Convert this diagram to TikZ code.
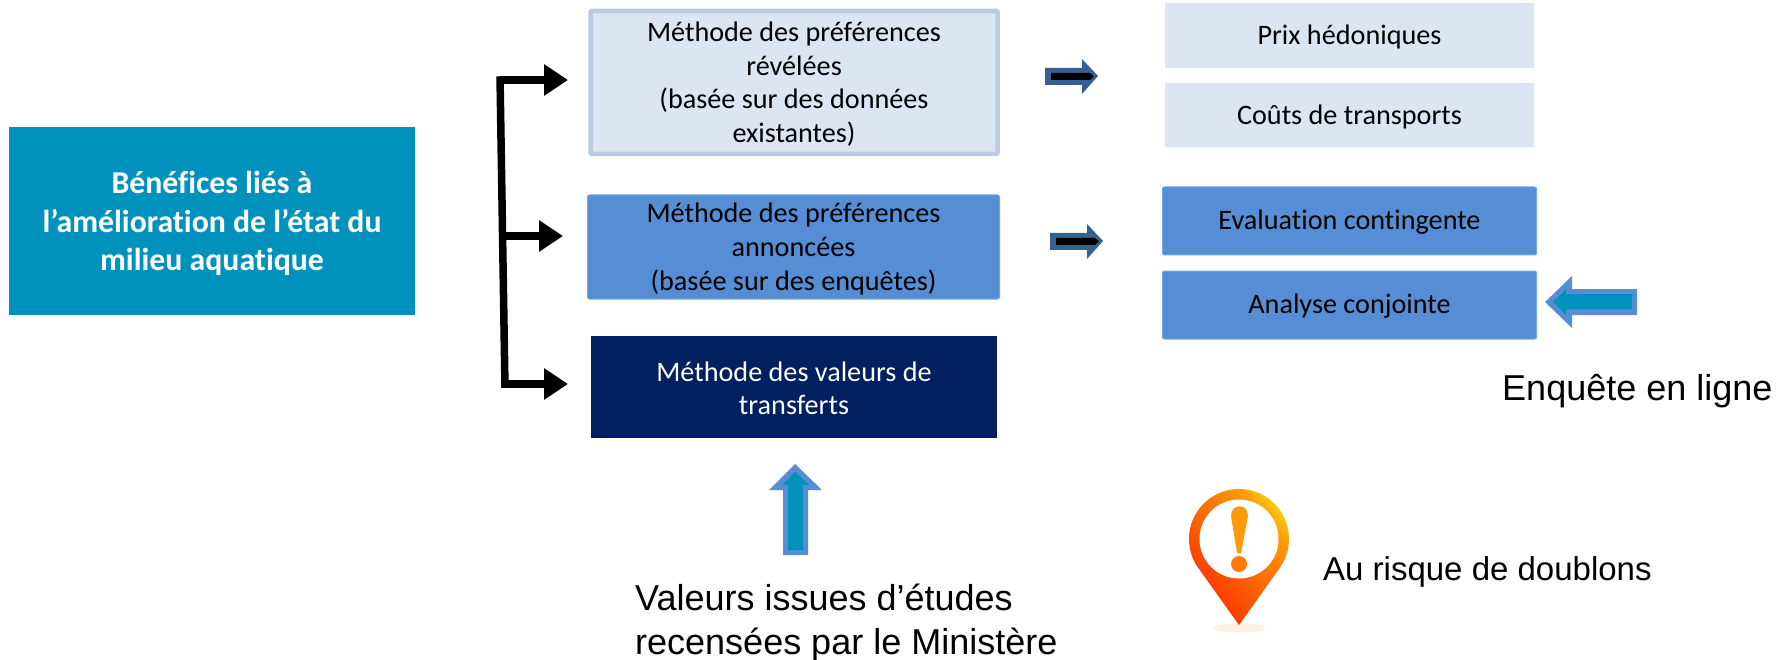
\documentclass[tikz,border=0pt]{standalone}
\usepackage{fontspec}
\setmainfont[Ligatures=NoCommon]{Carlito}
\newfontfamily\arialf{Liberation Sans}
\usetikzlibrary{arrows.meta}
\definecolor{lightfill}{HTML}{DCE6F2}
\definecolor{lightedge}{HTML}{B7CBE3}
\definecolor{midblue}{HTML}{558ED5}
\definecolor{navy}{HTML}{002060}
\definecolor{teal}{HTML}{0092BC}
\definecolor{slate}{HTML}{376092}
\definecolor{pinred}{HTML}{F93A00}
\definecolor{pinorange}{HTML}{FF7A08}
\definecolor{pinamber}{HTML}{FF9A08}
\definecolor{pinyellow}{HTML}{FFD010}
\pgfdeclareverticalshading{pinramp}{100bp}{color(0bp)=(pinred);color(30bp)=(pinred);color(55bp)=(pinorange);color(66bp)=(pinamber);color(74bp)=(pinyellow);color(100bp)=(pinyellow)}
\tikzset{
  box/.style={inner sep=0pt,align=center,font=\fontsize{28.2}{33.6}\selectfont,text=black},
  lightbox/.style={box,fill=lightfill},
  midbox/.style={box,fill=midblue,draw=midblue!80!white,line width=1pt,rounded corners=2pt},
  bigtext/.style={inner sep=0pt,align=left,font=\arialf\fontsize{36}{44}\selectfont},
  bracket/.style={line width=7.5pt,draw=black},
  branch/.style={line width=7.5pt,draw=black,-{Triangle[length=24pt,width=30pt]}},
  smallarrow/.style={fill=slate},
  bluearrow/.style={fill=midblue},
  tealarrow/.style={fill=teal},
  pinshade/.style={shading=pinramp,shading angle=-50}
}
\begin{document}
\begin{tikzpicture}[x=1pt,y=-1pt]
\useasboundingbox[fill=white] (0,0) rectangle (1787,660);
% main box
\node[box,fill=teal,minimum width=406pt,minimum height=188pt] (main) at (212,221) {};
\node[box,text=white,font=\bfseries\fontsize{31.8}{38.5}\selectfont] (mainlabel) at (212,223.5) {Bénéfices liés à\\l’amélioration de l’état du\\milieu aquatique};
% method boxes
\node[lightbox,draw=lightedge,line width=4.5pt,rounded corners=1pt,minimum width=407pt,minimum height=143pt] (m1) at (794,82.5) {};
\node[box] (m1label) at (794,84) {Méthode des préférences\\révélées\\(basée sur des données\\existantes)};
\node[midbox,minimum width=412pt,minimum height=104pt] (m2) at (793.5,247) {};
\node[box] (m2label) at (793.5,249) {Méthode des préférences\\annoncées\\(basée sur des enquêtes)};
\node[box,fill=navy,minimum width=406pt,minimum height=102pt] (m3) at (794,387) {};
\node[box,text=white] (m3label) at (794,388.5) {Méthode des valeurs de\\transferts};
% right boxes
\node[lightbox,minimum width=369pt,minimum height=65pt] (r1) at (1349.5,35.5) {};
\node[box] (r1label) at (1349.5,36.5) {Prix hédoniques};
\node[lightbox,minimum width=369pt,minimum height=64pt] (r2) at (1349.5,115) {};
\node[box] (r2label) at (1349.5,117) {Coûts de transports};
\node[midbox,minimum width=374pt,minimum height=68pt] (r3) at (1349.5,221) {};
\node[box] (r3label) at (1349.5,222.5) {Evaluation contingente};
\node[midbox,minimum width=374pt,minimum height=68pt] (r4) at (1349.5,305) {};
\node[box] (r4label) at (1349.5,306.5) {Analyse conjointe};
% bracket
\coordinate (tTop) at (500,80);
\coordinate (tMid) at (502,236);
\coordinate (tBot) at (505,384);
\coordinate (hTop) at (568,80);
\coordinate (hMid) at (563,236);
\coordinate (hBot) at (568,384);
\draw[bracket] ([yshift=3.75pt]tTop) -- ([yshift=-3.75pt]tBot);
\draw[branch] (tTop) -- (hTop);
\draw[branch] (tMid) -- (hMid);
\draw[branch] (tBot) -- (hBot);
% small slate arrows
\fill[smallarrow] (1045,68) -- (1082,68) -- (1082,59) -- (1098,76) -- (1082,94) -- (1082,85) -- (1045,85) -- cycle;
\fill[black] (1051,73) -- (1090,73) -- (1094,76.5) -- (1090,80) -- (1051,80) -- cycle;
\fill[smallarrow] (1050,233) -- (1087,233) -- (1087,224) -- (1103,241) -- (1087,259) -- (1087,250) -- (1050,250) -- cycle;
\fill[black] (1056,238) -- (1095,238) -- (1099,241.5) -- (1095,245) -- (1056,245) -- cycle;
% left arrow
\fill[bluearrow] (1545,302) -- (1572,276) -- (1572,289) -- (1637,289) -- (1637,315) -- (1572,315) -- (1572,328) -- cycle;
\fill[tealarrow] (1553,302) -- (1566,289) -- (1566,294) -- (1632,294) -- (1632,309) -- (1566,309) -- (1566,315) -- cycle;
% up arrow
\fill[bluearrow] (795,464) -- (822,490) -- (808,490) -- (808,555) -- (783,555) -- (783,490) -- (769,490) -- cycle;
\fill[tealarrow] (795,472) -- (809,485) -- (803,485) -- (803,550) -- (788,550) -- (788,485) -- (782,485) -- cycle;
% labels
\node[bigtext,anchor=west] (enq) at (1502,391) {Enquête en ligne};
\node[bigtext,anchor=north west] (val) at (635,584) {Valeurs issues d’études\\recensées par le Ministère};
\node[inner sep=0pt,anchor=west,font=\arialf\fontsize{33}{40}\selectfont] (risk) at (1323,572) {Au risque de doublons};
% pin
\fill[orange!20!white,opacity=.55] (1239,628) ellipse[x radius=26pt,y radius=4.5pt];
\path[pinshade] (1279.7,568) arc[start angle=-35.5,end angle=215.5,radius=50pt] -- (1239,625) -- cycle;
\fill[white] (1239,539) circle[radius=39.5pt];
\path[fill=pinamber] (1231,516) .. controls (1231,503) and (1248,503) .. (1248,516) -- (1241,553) -- (1237,553) -- cycle;
\fill[pinorange] (1239,564) circle[radius=8pt];
\end{tikzpicture}
\end{document}
